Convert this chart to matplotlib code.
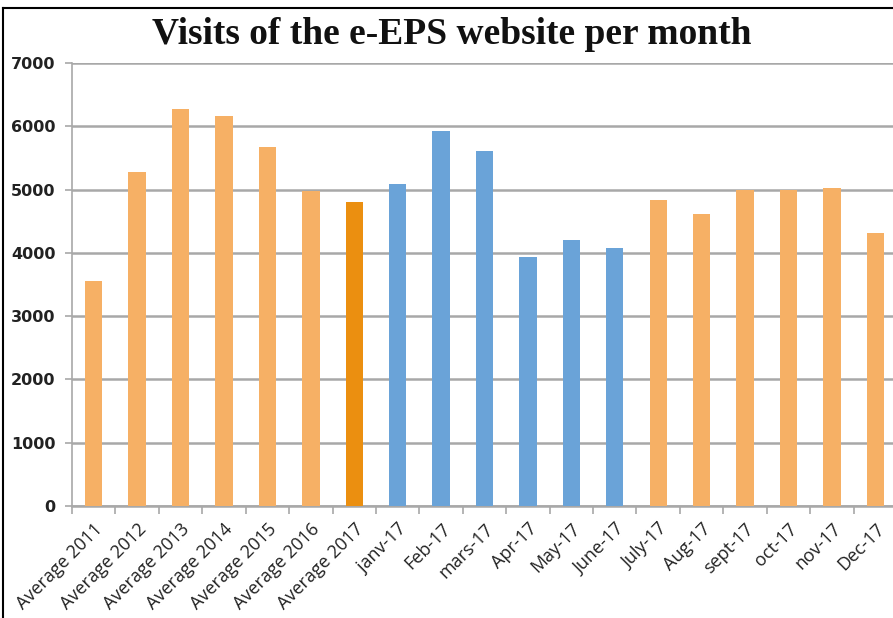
import matplotlib
matplotlib.use("Agg")
import matplotlib.pyplot as plt
from matplotlib.lines import Line2D

categories = ["Average 2011", "Average 2012", "Average 2013", "Average 2014",
              "Average 2015", "Average 2016", "Average 2017", "janv-17", "Feb-17",
              "mars-17", "Apr-17", "May-17", "June-17", "July-17", "Aug-17",
              "sept-17", "oct-17", "nov-17", "Dec-17"]
visits = [3550, 5270, 6280, 6160, 5670, 4980, 4800, 5090, 5920, 5610,
          3930, 4200, 4080, 4840, 4620, 4990, 4990, 5030, 4310]
bar_colors = ["#F6B065"] * 6 + ["#EB8F10"] + ["#6AA3D8"] * 6 + ["#F6B065"] * 6
y_ticks = [0, 1000, 2000, 3000, 4000, 5000, 6000, 7000]
title = "Visits of the e-EPS website per month"

W, H = 893, 618
fig = plt.figure(figsize=(W / 100, H / 100), dpi=100)
fig.patch.set_facecolor("white")

ax = fig.add_axes([72 / W, 1 - 506 / H, 825 / W, (506 - 63) / H])
x = list(range(len(categories)))
ax.bar(x, visits, width=0.4, color=bar_colors, zorder=3)

ax.set_xlim(-0.5, len(categories) - 0.5)
ax.set_ylim(0, 7000)
ax.set_yticks(y_ticks)
ax.set_yticklabels([str(v) for v in y_ticks], fontsize=11.5, fontweight="bold",
                   family="DejaVu Sans", color="#222222")
ax.yaxis.grid(True, color="#A8A8A8", linewidth=1.8, zorder=0)
ax.set_axisbelow(True)

ax.set_xticks([i - 0.5 for i in x] + [len(categories) - 0.5])
ax.set_xticklabels([])
ax.set_xticks(x, minor=True)
ax.set_xticklabels(categories, minor=True, rotation=45, ha="right",
                   rotation_mode="anchor", fontsize=13, family="Open Sans",
                   color="#222222")
ax.tick_params(axis="x", which="minor", length=0, pad=10)
ax.tick_params(axis="x", which="major", length=6, color="#A8A8A8", width=1.2, direction="out")
ax.tick_params(axis="y", length=5, color="#A8A8A8", width=1.2, pad=7)

for s in ["top", "right"]:
    ax.spines[s].set_visible(False)
ax.spines["left"].set_color("#A8A8A8")
ax.spines["left"].set_linewidth(1.2)
ax.spines["bottom"].set_color("#A8A8A8")
ax.spines["bottom"].set_linewidth(1.8)

fig.text(452 / W, 1 - 35 / H, title, ha="center", va="center",
         fontsize=27, fontweight="bold", family="Liberation Serif", color="#111111")

# outer frame (left and top edges visible)
fig.add_artist(Line2D([3 / W, 3 / W], [0, 1 - 8 / H], transform=fig.transFigure,
                      color="black", linewidth=1.5))
fig.add_artist(Line2D([3 / W, 1], [1 - 8 / H, 1 - 8 / H], transform=fig.transFigure,
                      color="black", linewidth=1.5))

fig.savefig("out.png", dpi=100, facecolor="white")
